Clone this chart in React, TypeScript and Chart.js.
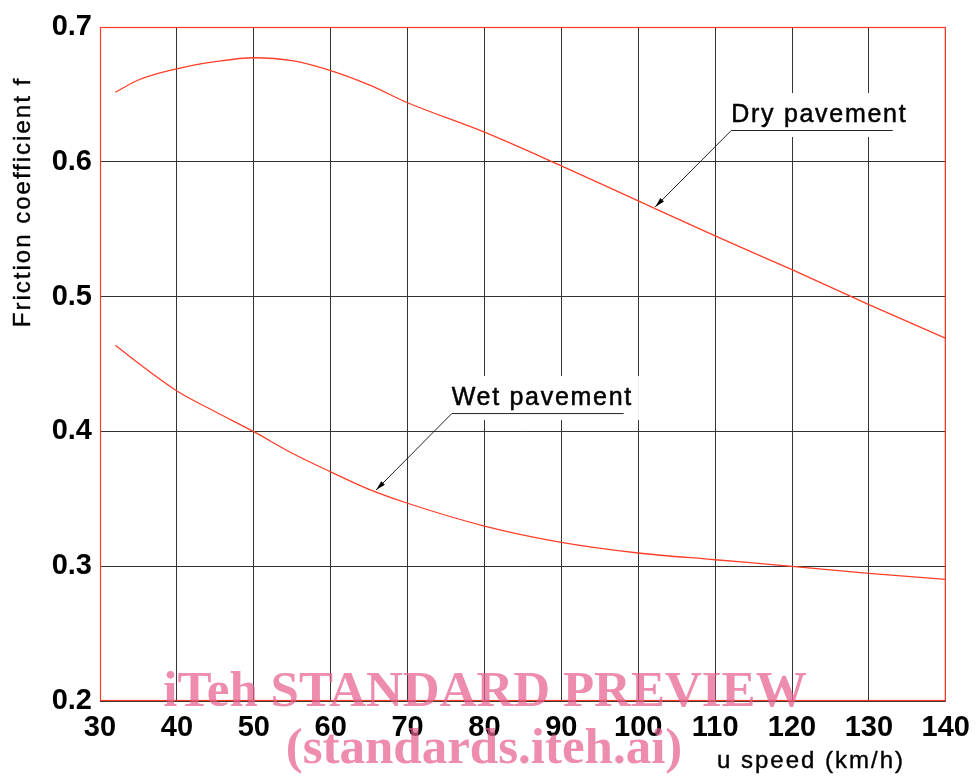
import React, { useEffect, useRef } from "react";
import { Chart, registerables } from "chart.js";

Chart.register(...registerables);

const speeds = [32, 35, 40, 45, 50, 55, 60, 65, 70, 80, 90, 100, 110, 120, 130, 140];
const dryPavement = [0.6516, 0.6607, 0.669, 0.6743, 0.6772, 0.675, 0.6676, 0.657, 0.6438, 0.622, 0.597, 0.571, 0.545, 0.52, 0.494, 0.469];
const wetPavement = [0.4639, 0.4505, 0.430, 0.4146, 0.3998, 0.3838, 0.370, 0.357, 0.3467, 0.3298, 0.3177, 0.3098, 0.3048, 0.2999, 0.2947, 0.2903];
const xTicks = [30, 40, 50, 60, 70, 80, 90, 100, 110, 120, 130, 140];
const yTicks = [0.2, 0.3, 0.4, 0.5, 0.6, 0.7];
const seriesLabels = ["Dry pavement", "Wet pavement"];
const xTitle = "u speed (km/h)";
const yTitle = "Friction coefficient f";
const watermark = ["iTeh STANDARD PREVIEW", "(standards.iteh.ai)"];

const RED = "rgb(255,62,40)";

// annotation anchors in data units: text left x, underline y, underline end x, arrow tip
const annotations = [
  { text: seriesLabels[0], x: 112.1, y: 0.6236, xEnd: 133.1, tipX: 102.2, tipY: 0.5665 },
  { text: seriesLabels[1], x: 75.75, y: 0.4136, xEnd: 98.1, tipX: 65.9, tipY: 0.3565 },
];

const LABEL_FONT = "25px Arial, 'Liberation Sans', sans-serif";

const overlayPlugin = {
  id: "overlay",
  beforeDatasetsDraw(chart: any) {
    const { ctx, chartArea: a } = chart;
    ctx.save();
    ctx.strokeStyle = RED;
    ctx.lineWidth = 1.2;
    ctx.strokeRect(a.left + 0.5, a.top + 0.5, a.right - a.left - 1, a.bottom - a.top - 1);
    const xs = chart.scales.x;
    const ys = chart.scales.y;
    ctx.font = LABEL_FONT;
    (ctx as any).letterSpacing = "1.7px";
    annotations.forEach((an) => {
      const px = xs.getPixelForValue(an.x);
      const py = ys.getPixelForValue(an.y);
      const w = ctx.measureText(an.text).width;
      ctx.fillStyle = "#fff";
      ctx.fillRect(px - 4, py - 37, w + 10, 44);
    });
    ctx.restore();
  },
  afterDatasetsDraw(chart: any) {
    const { ctx } = chart;
    const xs = chart.scales.x;
    const ys = chart.scales.y;
    ctx.save();
    annotations.forEach((an) => {
      const px = xs.getPixelForValue(an.x);
      const py = ys.getPixelForValue(an.y);
      const pe = xs.getPixelForValue(an.xEnd);
      const tx = xs.getPixelForValue(an.tipX);
      const ty = ys.getPixelForValue(an.tipY);
      ctx.fillStyle = "#000";
      ctx.strokeStyle = "#000";
      ctx.font = LABEL_FONT;
      (ctx as any).letterSpacing = "1.7px";
      ctx.textBaseline = "alphabetic";
      ctx.textAlign = "left";
      ctx.fillText(an.text, px, py - 8);
      ctx.lineWidth = 0.5;
      ctx.strokeText(an.text, px, py - 8);
      (ctx as any).letterSpacing = "0px";
      ctx.strokeStyle = "#222";
      ctx.lineWidth = 1;
      ctx.beginPath();
      ctx.moveTo(pe, py + 0.5);
      ctx.lineTo(px, py + 0.5);
      ctx.lineTo(tx, ty);
      ctx.stroke();
      const ang = Math.atan2(ty - py, tx - px);
      const L = 10, W = 2.5;
      ctx.beginPath();
      ctx.moveTo(tx, ty);
      ctx.lineTo(tx - L * Math.cos(ang) + W * Math.sin(ang), ty - L * Math.sin(ang) - W * Math.cos(ang));
      ctx.lineTo(tx - L * Math.cos(ang) - W * Math.sin(ang), ty - L * Math.sin(ang) + W * Math.cos(ang));
      ctx.closePath();
      ctx.fillStyle = "#000";
      ctx.fill();
    });
    ctx.restore();
  },
  afterDraw(chart: any) {
    const { ctx } = chart;
    ctx.save();
    ctx.fillStyle = "#000";
    ctx.strokeStyle = "#000";
    ctx.lineWidth = 0.4;
    ctx.font = "24px Arial, 'Liberation Sans', sans-serif";
    (ctx as any).letterSpacing = "2px";
    ctx.textAlign = "left";
    ctx.textBaseline = "alphabetic";
    ctx.fillText(xTitle, 717, 768);
    ctx.strokeText(xTitle, 717, 768);
    ctx.save();
    ctx.translate(30, 202);
    ctx.rotate(-Math.PI / 2);
    ctx.textAlign = "center";
    ctx.fillText(yTitle, 0, 0);
    ctx.strokeText(yTitle, 0, 0);
    ctx.restore();
    (ctx as any).letterSpacing = "0px";
    ctx.fillStyle = "rgba(230,95,140,0.72)";
    ctx.font = "bold 51px 'Liberation Serif', 'Times New Roman', serif";
    ctx.textAlign = "center";
    ctx.fillText(watermark[0], 485, 706);
    ctx.fillText(watermark[1], 484, 763);
    ctx.restore();
  },
};

export default function App() {
  const ref = useRef<HTMLCanvasElement>(null);
  useEffect(() => {
    const canvas = ref.current!;
    const chart = new Chart(canvas, {
      type: "line",
      data: {
        datasets: [
          {
            label: seriesLabels[0],
            data: speeds.map((s, i) => ({ x: s, y: dryPavement[i] })),
            borderColor: RED,
            borderWidth: 1.3,
            pointRadius: 0,
            cubicInterpolationMode: "monotone",
            fill: false,
          },
          {
            label: seriesLabels[1],
            data: speeds.map((s, i) => ({ x: s, y: wetPavement[i] })),
            borderColor: RED,
            borderWidth: 1.3,
            pointRadius: 0,
            cubicInterpolationMode: "monotone",
            fill: false,
          },
        ],
      },
      options: {
        responsive: false,
        animation: false,
        events: [],
        layout: { padding: { top: 27, right: 31, left: 0, bottom: 0 } },
        plugins: { legend: { display: false }, tooltip: { enabled: false } },
        scales: {
          x: {
            type: "linear",
            min: xTicks[0],
            max: xTicks[xTicks.length - 1],
            afterBuildTicks: (s: any) => {
              s.ticks = xTicks.map((v) => ({ value: v }));
            },
            afterFit: (s: any) => {
              s.height = 75;
            },
            grid: { color: "#333", lineWidth: 1, drawTicks: false },
            border: { display: false },
            ticks: {
              color: "#000",
              padding: 10,
              font: { family: "Arial, 'Liberation Sans', sans-serif", size: 29, weight: "bold" },
              callback: (v: any) => String(v),
            },
          },
          y: {
            type: "linear",
            min: yTicks[0],
            max: yTicks[yTicks.length - 1],
            afterBuildTicks: (s: any) => {
              s.ticks = yTicks.map((v) => ({ value: v }));
            },
            afterFit: (s: any) => {
              s.width = 100;
            },
            grid: { color: "#333", lineWidth: 1, drawTicks: false },
            border: { display: false },
            ticks: {
              color: "#000",
              padding: 8,
              font: { family: "Arial, 'Liberation Sans', sans-serif", size: 29, weight: "bold" },
              callback: (v: any) => Number(v).toFixed(1),
            },
          },
        },
      },
      plugins: [overlayPlugin],
    } as any);
    return () => chart.destroy();
  }, []);
  return (
    <div style={{ position: "fixed", left: 0, top: 0, width: 980, height: 776, background: "#fff" }}>
      <canvas ref={ref} width={980} height={776} style={{ display: "block" }} />
    </div>
  );
}
